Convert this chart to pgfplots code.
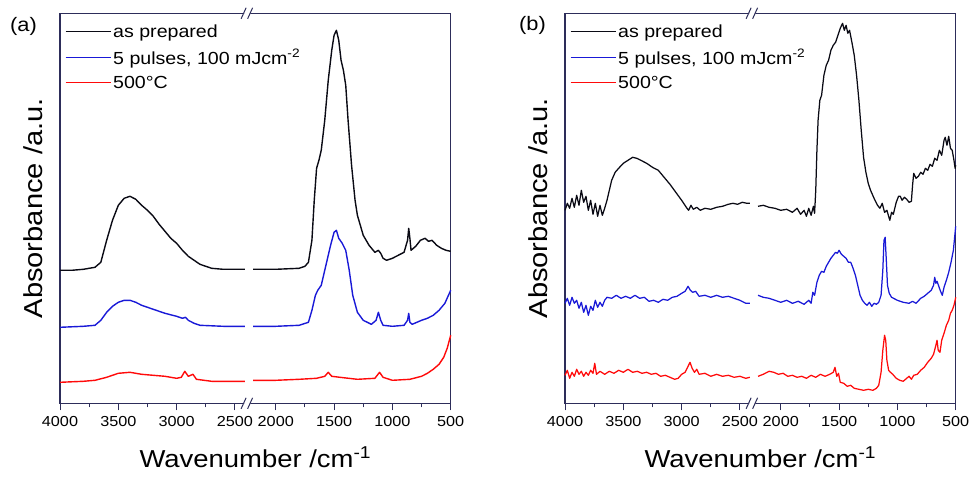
\documentclass[border=0pt]{standalone}
\usepackage{fontspec}
\setmainfont{Liberation Sans}[FakeStretch=1.12]
\usepackage{pgfplots}
\pgfplotsset{compat=1.18}
\definecolor{axiscol}{RGB}{45,45,90}
\definecolor{cblack}{RGB}{10,10,20}
\definecolor{cblue}{RGB}{25,25,215}
\definecolor{cred}{RGB}{255,10,10}
\pgfplotsset{
  panel/.style={
    width=390.7pt, height=390pt, scale only axis,
    anchor=south west,
    xmin=0, xmax=3350, ymin=0, ymax=390,
    clip=false,
    x filter/.expression={x>2300 ? 4000-x : 3850-x},
    xtick={0,500,1000,1500,1850,2350,2850,3350},
    xticklabels={4000,3500,3000,2500,2000,1500,1000,500},
    minor xtick={250,750,1250,2100,2600,3100},
    ytick=\empty,
    xtick pos=bottom,
    tick align=outside,
    major tick length=7pt,
    minor tick length=4pt,
    tick style={axiscol, line width=1pt},
    axis line style={axiscol, line width=1.2pt},
    /pgf/number format/assume math mode=true,
    xticklabel style={font=\fontsize{14.5}{16}\selectfont, anchor=base, yshift=-16pt},
    xlabel={Wavenumber /cm\textsuperscript{-1}},
    xlabel style={font=\fontsize{24.5}{28}\selectfont, at={(axis description cs:0.5,-0.164)}, anchor=base},
    ylabel={Absorbance /a.u.},
    ylabel style={font=\fontsize{26}{30}\selectfont, at={(axis description cs:-0.046,0.5)}, anchor=base},
    legend style={at={(axis description cs:0,1)}, anchor=north west, draw=none, fill=none,
      font=\fontsize{17.5}{20}\selectfont, row sep=6.5pt, inner xsep=5pt, inner ysep=9pt},
    legend cell align=left,
    every axis plot/.append style={line join=round},
  },
  limg/.style={legend image code/.code={\draw[#1, line width=1pt] (0pt,0pt) -- (45pt,0pt);}},
}
\newcommand{\brk}[1]{%
  \fill[white] ([xshift=-3.5pt,yshift=-3pt]#1) -- ([xshift=2.5pt,yshift=-3pt]#1) -- ([xshift=5pt,yshift=3pt]#1) -- ([xshift=-1pt,yshift=3pt]#1) -- cycle;
  \draw[axiscol, line width=1pt] ([xshift=-5.5pt,yshift=-5.5pt]#1) -- ([xshift=-0.5pt,yshift=5.5pt]#1);
  \draw[axiscol, line width=1pt] ([xshift=1pt,yshift=-5.5pt]#1) -- ([xshift=6pt,yshift=5.5pt]#1);
}
\begin{document}
\begin{tikzpicture}
\useasboundingbox (0,0) rectangle (980pt,477pt);
% ---------------- panel (a) ----------------
\begin{axis}[panel, at={(60pt,73.7pt)}]
\addplot[cblack, line width=1.4pt, limg=cblack] coordinates {
(4000,133)(3900,133)(3800,134)(3700,136)(3650,141)(3600,163)(3550,183)(3500,198)(3450,205)(3400,207)(3350,204)(3300,198)(3250,193)(3200,187)(3150,179)(3100,172)(3050,165)(3000,160)(2950,153)(2900,147)(2850,143)(2800,139)(2700,135)(2600,134)(2500,134)(2415,134)};
\addlegendentry{as prepared}
\addplot[cblack, line width=1.4pt, forget plot] coordinates {
(2195,134)(2000,134)(1800,135)(1750,137)(1720,141)(1690,163)(1670,203)(1650,235)(1630,243)(1610,253)(1580,283)(1550,323)(1520,353)(1500,368)(1480,373)(1460,363)(1440,343)(1420,333)(1400,318)(1380,283)(1350,238)(1320,203)(1300,188)(1250,168)(1200,158)(1150,151)(1120,153)(1100,150)(1080,145)(1050,143)(1000,145)(950,148)(900,151)(870,163)(860,175)(850,165)(840,153)(800,157)(760,163)(720,165)(690,162)(660,163)(620,158)(580,155)(540,153)(500,152)};
\addplot[cblue, line width=1.4pt, limg=cblue] coordinates {
(4000,76)(3800,77)(3700,78)(3650,83)(3600,91)(3550,97)(3500,101)(3450,103)(3400,103)(3350,101)(3300,98)(3200,94)(3100,90)(3000,87)(2950,85)(2925,86)(2900,83)(2850,80)(2800,78)(2600,77)(2415,77)};
\addlegendentry{5 pulses, 100 mJcm\textsuperscript{-2}}
\addplot[cblue, line width=1.4pt, forget plot] coordinates {
(2195,77)(2000,77)(1800,78)(1720,81)(1690,93)(1660,108)(1640,113)(1610,118)(1570,138)(1530,158)(1500,171)(1480,173)(1460,165)(1430,160)(1400,153)(1370,133)(1340,108)(1300,91)(1250,83)(1180,79)(1140,83)(1120,91)(1100,83)(1080,78)(1000,77)(900,78)(870,83)(860,90)(850,81)(830,79)(750,83)(700,85)(650,88)(600,93)(550,100)(500,113)};
\addplot[cred, line width=1.4pt, limg=cred] coordinates {
(4000,21)(3800,22)(3700,23)(3600,26)(3500,30)(3400,31)(3300,29)(3100,27)(3000,25)(2960,26)(2930,32)(2900,27)(2860,29)(2830,24)(2700,22)(2415,22)};
\addlegendentry{500°C}
\addplot[cred, line width=1.4pt, forget plot] coordinates {
(2195,23)(2000,23)(1800,24)(1650,25)(1580,27)(1550,31)(1520,27)(1450,26)(1300,24)(1150,25)(1110,31)(1080,26)(1000,23)(850,24)(750,27)(700,30)(650,34)(600,39)(560,46)(530,55)(500,68)};
\coordinate (Atop) at (axis cs:1600,390);
\coordinate (Abot) at (axis cs:1600,0);
\end{axis}
\brk{Atop}
\brk{Abot}
% ---------------- panel (b) ----------------
\begin{axis}[panel, at={(565pt,73.7pt)}]
\addplot[cblack, line width=1.25pt, limg=cblack] coordinates {
(4000,193)(3980,200)(3960,195)(3940,205)(3920,196)(3900,208)(3880,198)(3860,213)(3840,201)(3820,207)(3800,193)(3780,203)(3760,189)(3740,200)(3720,187)(3700,198)(3680,188)(3660,195)(3640,203)(3620,213)(3600,223)(3570,231)(3540,235)(3500,240)(3460,243)(3420,246)(3385,245)(3350,243)(3300,240)(3250,236)(3200,233)(3150,226)(3100,219)(3050,211)(3000,203)(2960,196)(2940,193)(2920,198)(2900,194)(2870,196)(2840,193)(2800,195)(2750,194)(2700,196)(2650,197)(2600,199)(2560,200)(2520,199)(2480,201)(2440,200)(2415,200)};
\addlegendentry{as prepared}
\addplot[cblack, line width=1.25pt, forget plot] coordinates {
(2195,197)(2150,198)(2100,196)(2050,195)(2000,193)(1950,194)(1900,191)(1860,195)(1830,189)(1800,193)(1780,187)(1760,195)(1740,188)(1720,197)(1710,190)(1700,213)(1690,253)(1680,283)(1665,303)(1650,308)(1630,328)(1610,338)(1590,343)(1570,353)(1550,358)(1530,361)(1510,368)(1490,375)(1470,380)(1455,373)(1440,378)(1425,370)(1410,373)(1390,361)(1370,348)(1350,328)(1330,303)(1310,273)(1290,246)(1270,231)(1250,220)(1230,213)(1200,205)(1170,198)(1150,195)(1130,200)(1110,191)(1090,193)(1065,183)(1050,191)(1035,189)(1010,201)(990,207)(975,207)(960,203)(940,206)(920,204)(900,201)(880,202)(870,218)(860,230)(840,225)(820,227)(800,231)(780,229)(760,235)(740,233)(720,239)(700,237)(680,245)(660,243)(640,253)(620,248)(600,263)(590,266)(575,258)(560,267)(545,255)(530,253)(515,243)(505,235)(500,238)};
\addplot[cblue, line width=1.25pt, limg=cblue] coordinates {
(4000,100)(3980,105)(3960,98)(3940,106)(3920,100)(3900,103)(3880,95)(3860,101)(3840,91)(3820,98)(3800,88)(3780,97)(3760,93)(3740,103)(3720,96)(3700,101)(3680,97)(3660,103)(3640,106)(3600,105)(3560,108)(3520,105)(3480,107)(3440,105)(3400,108)(3360,105)(3320,106)(3280,102)(3240,103)(3200,101)(3160,104)(3120,103)(3080,106)(3040,107)(3000,110)(2970,112)(2945,117)(2925,113)(2905,111)(2880,112)(2850,107)(2800,108)(2750,106)(2700,108)(2650,106)(2600,107)(2550,105)(2500,103)(2450,100)(2415,100)};
\addlegendentry{5 pulses, 100 mJcm\textsuperscript{-2}}
\addplot[cblue, line width=1.25pt, forget plot] coordinates {
(2195,108)(2150,106)(2100,105)(2050,103)(2000,101)(1950,103)(1900,100)(1850,102)(1800,99)(1760,103)(1740,100)(1725,111)(1710,108)(1690,121)(1670,128)(1650,132)(1630,131)(1610,137)(1590,141)(1570,145)(1550,148)(1530,151)(1515,150)(1500,153)(1480,149)(1460,147)(1440,145)(1420,141)(1400,141)(1380,135)(1360,128)(1340,118)(1320,108)(1300,103)(1280,100)(1260,98)(1240,101)(1220,97)(1200,100)(1180,99)(1160,101)(1140,108)(1125,133)(1115,163)(1105,166)(1095,143)(1085,118)(1070,110)(1050,106)(1000,103)(950,101)(900,100)(870,102)(840,100)(800,105)(770,107)(740,110)(710,113)(690,118)(680,126)(670,120)(660,122)(645,117)(630,112)(615,108)(600,116)(580,123)(560,131)(540,141)(520,153)(510,165)(500,177)};
\addplot[cred, line width=1.25pt, limg=cred] coordinates {
(4000,28)(3980,33)(3960,25)(3940,31)(3920,27)(3900,34)(3880,29)(3860,32)(3840,27)(3820,31)(3800,28)(3780,33)(3760,30)(3745,40)(3730,29)(3700,32)(3660,29)(3620,32)(3580,30)(3540,33)(3500,31)(3460,34)(3420,31)(3380,32)(3340,30)(3300,31)(3260,29)(3220,30)(3180,27)(3140,28)(3100,26)(3060,24)(3030,25)(3000,29)(2970,31)(2945,37)(2928,41)(2910,35)(2890,31)(2870,34)(2850,29)(2800,30)(2750,27)(2700,29)(2650,27)(2600,28)(2550,26)(2500,27)(2450,25)(2415,26)};
\addlegendentry{500°C}
\addplot[cred, line width=1.25pt, forget plot] coordinates {
(2195,27)(2150,29)(2100,32)(2060,31)(2020,29)(1980,30)(1940,27)(1900,28)(1860,26)(1820,27)(1780,25)(1740,28)(1700,26)(1660,29)(1620,27)(1580,29)(1550,31)(1535,36)(1520,27)(1505,30)(1490,21)(1460,20)(1430,17)(1400,18)(1370,15)(1330,14)(1290,13)(1250,14)(1210,13)(1180,15)(1160,18)(1140,31)(1125,53)(1110,68)(1100,63)(1090,43)(1075,33)(1060,31)(1040,29)(1010,25)(980,23)(950,22)(920,25)(900,27)(880,24)(860,28)(830,29)(800,33)(770,36)(740,41)(710,45)(690,49)(670,58)(660,63)(650,53)(635,51)(620,63)(600,70)(580,78)(560,83)(545,90)(530,93)(515,98)(505,103)(500,106)};
\coordinate (Btop) at (axis cs:1600,390);
\coordinate (Bbot) at (axis cs:1600,0);
\end{axis}
\brk{Btop}
\brk{Bbot}
\node[font=\fontsize{19.5}{22}\selectfont, anchor=center] at (23.5pt,451pt) {(a)};
\node[font=\fontsize{19.5}{22}\selectfont, anchor=center] at (532.5pt,452pt) {(b)};
\end{tikzpicture}
\end{document}
